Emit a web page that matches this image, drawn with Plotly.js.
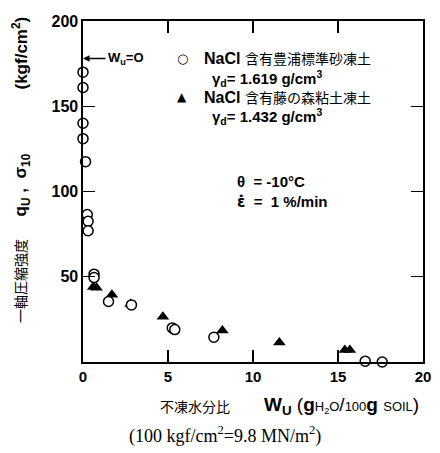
<!DOCTYPE html>
<html>
<head>
<meta charset="utf-8">
<script src="https://cdn.plot.ly/plotly-3.0.1.min.js"></script>
<style>
  html, body { margin: 0; padding: 0; background: #fff; }
  #chart { width: 440px; height: 453px; }
</style>
</head>
<body>
<div id="chart"></div>
<script>
// Toyoura standard sand with NaCl (open circles)
const sandWu = [0, 0, 0, 0, 0.15, 0.25, 0.3, 0.3, 0.65, 0.65, 1.5, 2.85, 5.25, 5.4, 7.7, 16.6, 17.6];
const sandQu = [170, 161, 140, 131, 117.5, 86.5, 82.5, 77, 51.5, 49.5, 35.5, 33.5, 20, 19, 14.5, 0.5, 0];

// Fujinomori clay with NaCl (solid triangles)
const clayWu = [0.6, 0.8, 1.7, 2.8, 4.7, 8.2, 11.55, 15.4, 15.7];
const clayQu = [44, 43.5, 39.5, 34, 26.5, 18.5, 11.5, 7, 7];

const xTicks = [0, 5, 10, 15, 20];
const yTicks = [50, 100, 150, 200];

const SANS = 'Liberation Sans, Arial, Noto Sans CJK JP, sans-serif';
const CJK = 'Noto Sans CJK JP, sans-serif';

const traces = [
  {
    x: clayWu, y: clayQu, type: 'scatter', mode: 'markers', cliponaxis: false,
    marker: { symbol: 'triangle-up', size: 11, color: '#000', line: { width: 0 } },
    hoverinfo: 'skip'
  },
  {
    x: sandWu, y: sandQu, type: 'scatter', mode: 'markers', cliponaxis: false,
    marker: { symbol: 'circle', size: 10, color: '#fff', line: { width: 1.5, color: '#000' } },
    hoverinfo: 'skip'
  }
];

const axisCommon = {
  showgrid: false, zeroline: false, showline: true, linecolor: '#000', linewidth: 1.6,
  mirror: 'ticks', ticks: 'inside', ticklen: 12, tickwidth: 1.3, tickcolor: '#000',
  tickfont: { family: SANS, size: 16, color: '#000', weight: 'bold' }, fixedrange: true
};

const ann = [];
function add(o) {
  ann.push(Object.assign({ showarrow: false, xanchor: 'center', yanchor: 'middle',
    font: { family: SANS, size: 15, color: '#000' } }, o));
}

// w_u = 0 pointer
ann.push({ x: 0, y: 178, xref: 'x', yref: 'y', ax: 24, ay: 0, text: '', showarrow: true,
  arrowhead: 2, arrowsize: 1, arrowwidth: 1.3, arrowcolor: '#000' });
add({ x: 1.35, y: 178, xref: 'x', yref: 'y', xanchor: 'left',
  text: '<b>W<sub>u</sub>=O</b>', font: { family: SANS, size: 13, color: '#000' } });

// legend
add({ x: 5.88, y: 178.3, xref: 'x', yref: 'y', text: '○', font: { family: 'DejaVu Sans', size: 13, color: '#000' } });
add({ x: 7.0, y: 178.3, xref: 'x', yref: 'y', xanchor: 'left',
  text: '<b>NaCl</b> <span style="font-family:' + CJK + ';font-size:14px">含有豊浦標準砂凍土</span>',
  font: { family: SANS, size: 16, color: '#000' } });
add({ x: 7.47, y: 166.5, xref: 'x', yref: 'y', xanchor: 'left',
  text: '<b>γ<sub>d</sub>= 1.619 g/cm<sup>3</sup></b>', font: { family: SANS, size: 15, color: '#000' } });
add({ x: 5.82, y: 155.4, xref: 'x', yref: 'y', text: '▲', font: { family: 'DejaVu Sans', size: 12, color: '#000' } });
add({ x: 7.0, y: 155.4, xref: 'x', yref: 'y', xanchor: 'left',
  text: '<b>NaCl</b> <span style="font-family:' + CJK + ';font-size:14px">含有藤の森粘土凍土</span>',
  font: { family: SANS, size: 16, color: '#000' } });
add({ x: 7.47, y: 143.8, xref: 'x', yref: 'y', xanchor: 'left',
  text: '<b>γ<sub>d</sub>= 1.432 g/cm<sup>3</sup></b>', font: { family: SANS, size: 15, color: '#000' } });

// test conditions
add({ x: 8.94, y: 100, xref: 'x', yref: 'y', xanchor: 'left', align: 'left',
  text: '<b>θ  = -10°C<br><span style="font-family:DejaVu Sans">ε̇</span>  =  1 %/min</b>', font: { family: SANS, size: 15, color: '#000' } });

// y-axis title pieces
add({ x: -0.185, y: 0.905, xref: 'paper', yref: 'paper', textangle: -90,
  text: '<b>(kgf/cm<sup>2</sup>)</b>', font: { family: SANS, size: 17, color: '#000' } });
add({ x: -0.18, y: 0.52, xref: 'paper', yref: 'paper', textangle: -90,
  text: '<b>q<sub>U</sub> ,  σ<sub>10</sub></b>', font: { family: SANS, size: 17, color: '#000' } });
add({ x: -0.185, y: 0.2375, xref: 'paper', yref: 'paper', textangle: -90,
  text: '一軸圧縮強度', font: { family: CJK, size: 14, color: '#000' } });

// x-axis title
add({ x: 0.328, y: -0.128, xref: 'paper', yref: 'paper',
  text: '不凍水分比', font: { family: CJK, size: 14, color: '#000' } });
add({ x: 0.525, y: -0.13, xref: 'paper', yref: 'paper', xanchor: 'left',
  text: '<b>W<sub>U</sub></b> (<b>g</b><span style="font-size:13px">H<sub>2</sub>O</span>/<span style="font-size:13px">100</span><b>g</b> <span style="font-size:13px">SOIL</span>)',
  font: { family: SANS, size: 19, color: '#000' } });

// unit conversion note
add({ x: 0.418, y: -0.214, xref: 'paper', yref: 'paper',
  text: '(100 kgf/cm<sup>2</sup>=9.8 MN/m<sup>2</sup>)',
  font: { family: 'Liberation Serif, DejaVu Serif, serif', size: 18, color: '#000' } });

const layout = {
  width: 440, height: 453,
  margin: { l: 83, r: 17, t: 21, b: 91 },
  paper_bgcolor: '#fff', plot_bgcolor: '#fff',
  showlegend: false,
  xaxis: Object.assign({}, axisCommon, { range: [0, 20], tickvals: xTicks,
    tickfont: { family: SANS, size: 15, color: '#000', weight: 'bold' } }),
  yaxis: Object.assign({}, axisCommon, { range: [0, 200], tickvals: yTicks }),
  annotations: ann
};

Plotly.newPlot('chart', traces, layout, { staticPlot: true, displayModeBar: false });
</script>
</body>
</html>
